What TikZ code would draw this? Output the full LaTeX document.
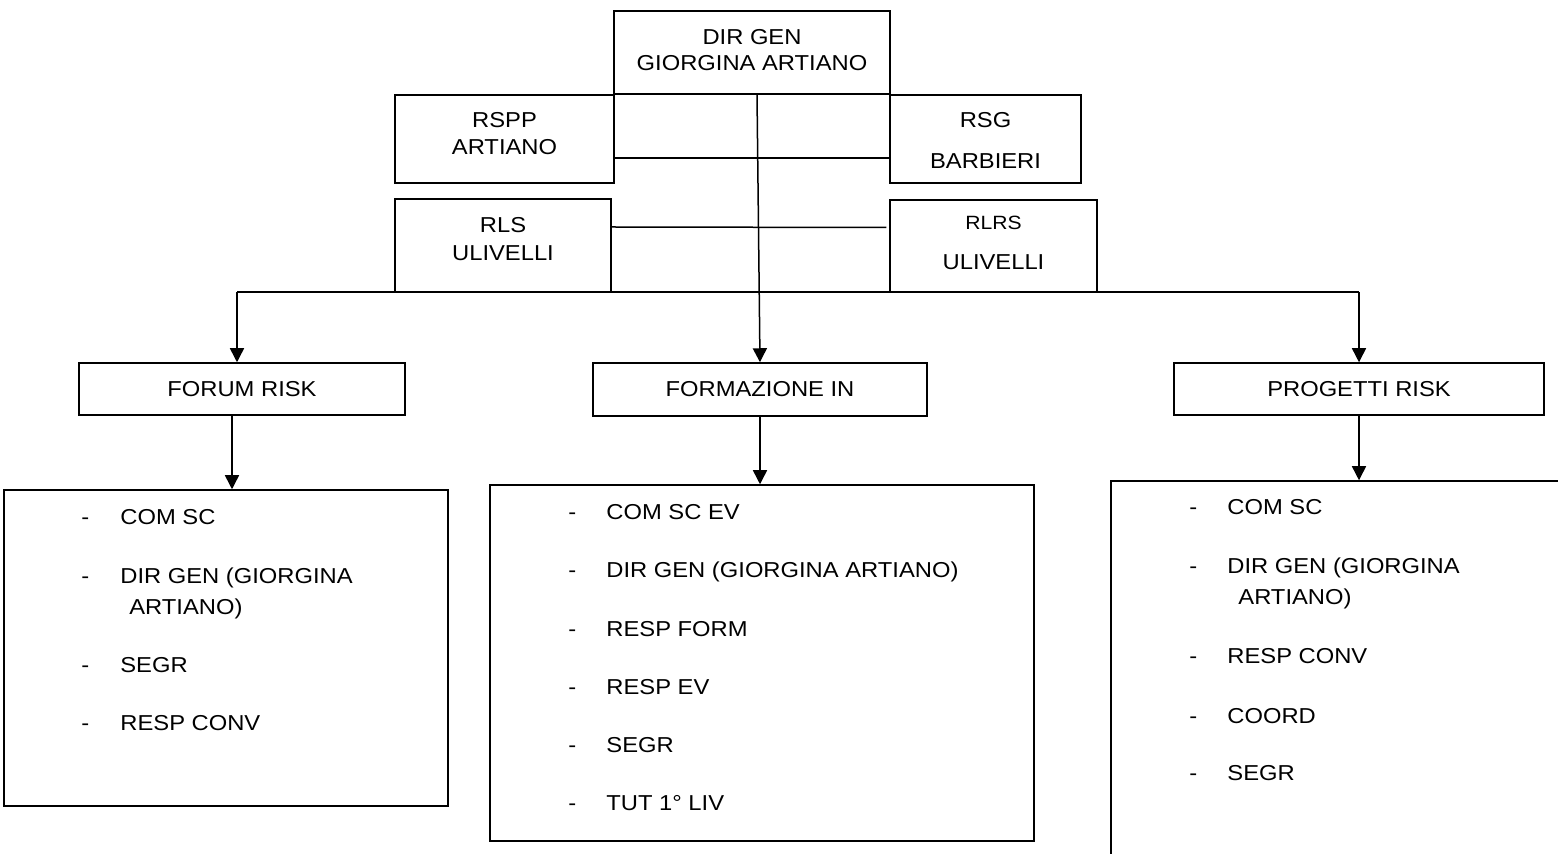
\documentclass[tikz,border=0pt]{standalone}
\usepackage{fontspec}
\setmainfont{Liberation Sans}[FakeStretch=1.1]
\usetikzlibrary{arrows.meta,positioning}

\tikzset{
  unit/.style={draw, rectangle, inner sep=0pt, line width=0.75pt},
  conn/.style={line width=0.75pt},
  arr/.style={line width=0.75pt, -{Triangle[width=7pt,length=7pt]}},
  item/.style={anchor=west, inner sep=0pt, text height=7.7pt, text depth=0pt}
}

\begin{document}
\begin{tikzpicture}[x=0.5pt, y=-0.5pt, font=\fontsize{10.8}{13.5}\selectfont]

\useasboundingbox (0,0) rectangle (1558,854);
\clip (0,0) rectangle (1558,854);

\node[unit, minimum width=138pt, minimum height=41.5pt,
  label={[align=center, yshift=1.25pt]center:{DIR GEN\\[-0.5pt]GIORGINA ARTIANO}}] (dirgen) at (752,52.5) {};

\node[unit, minimum width=109.5pt, minimum height=44pt,
  label={[align=center, yshift=2.75pt]center:{RSPP\\ARTIANO}}] (rspp) at (504.5,139) {};

\node[unit, minimum width=95.5pt, minimum height=44pt,
  label={[align=center, yshift=-0.75pt]center:{RSG\\[7pt]BARBIERI}}] (rsg) at (985.5,139) {};

\node[unit, minimum width=108pt, minimum height=46.5pt,
  label={[align=center, yshift=3.25pt]center:{RLS\\[0.5pt]ULIVELLI}}] (rls) at (503,245.5) {};

\node[unit, minimum width=103.5pt, minimum height=46pt,
  label={[align=center, yshift=1.4pt]center:{{\fontsize{9.6}{11}\selectfont RLRS}\\[6.5pt]ULIVELLI}}] (rlrs) at (993.5,246) {};

\node[unit, minimum width=163pt, minimum height=26pt] (forum) at (242,389) {FORUM RISK};

\node[unit, minimum width=167pt, minimum height=26.5pt] (formaz) at (760,389.5) {FORMAZIONE IN};

\node[unit, minimum width=185pt, minimum height=26pt] (progetti) at (1359,389) {PROGETTI RISK};

\node[unit, minimum width=222pt, minimum height=158pt] (forumlist) at (226,648) {};

\node[unit, minimum width=272pt, minimum height=178pt] (formazlist) at (762,663) {};

\node[unit, minimum width=250pt, minimum height=215pt] (progettilist) at (1361,696) {};

\draw[conn] ([yshift=-9.5pt]rspp.east) -- ([yshift=-9.5pt]rsg.west);

\draw[conn] ([yshift=9.25pt]rls.east) -- ([xshift=-1.5pt,yshift=9.25pt]rlrs.west);

\draw[arr] ([xshift=2.5pt]dirgen.south) -- (formaz.north);

\coordinate (bl) at (237,292);
\coordinate (br) at (1359,292);

\draw[conn] (bl) -- (br);

\draw[arr] (bl) -- (bl |- forum.north);

\draw[arr] (br) -- (progetti.north);

\draw[arr] ([xshift=-5pt]forum.south) -- ([xshift=-5pt]forum.south |- forumlist.north);

\draw[arr] (formaz.south) -- (formaz.south |- formazlist.north);

\draw[arr] (progetti.south) -- (progetti.south |- progettilist.north);

\foreach \yy/\txt [count=\i] in {517/COM SC, 576/DIR GEN (GIORGINA, 665/SEGR, 723/RESP CONV} {
  \node[item] (fdash\i) at (81,\yy) {-};
  \node[item] (fitem\i) at (120,\yy) {\txt};
}
\node[item] (fwrap) at (129,607) {ARTIANO)};

\foreach \yy/\txt [count=\i] in {512/COM SC EV, 570/DIR GEN (GIORGINA ARTIANO), 629/RESP FORM, 687/RESP EV, 745/SEGR, 803/TUT 1° LIV} {
  \node[item] (mdash\i) at (568,\yy) {-};
  \node[item] (mitem\i) at (606,\yy) {\txt};
}

\foreach \yy/\txt [count=\i] in {507/COM SC, 566/DIR GEN (GIORGINA, 656/RESP CONV, 716/COORD, 773/SEGR} {
  \node[item] (pdash\i) at (1189,\yy) {-};
  \node[item] (pitem\i) at (1227,\yy) {\txt};
}
\node[item] (pwrap) at (1238,597) {ARTIANO)};

\end{tikzpicture}
\end{document}
